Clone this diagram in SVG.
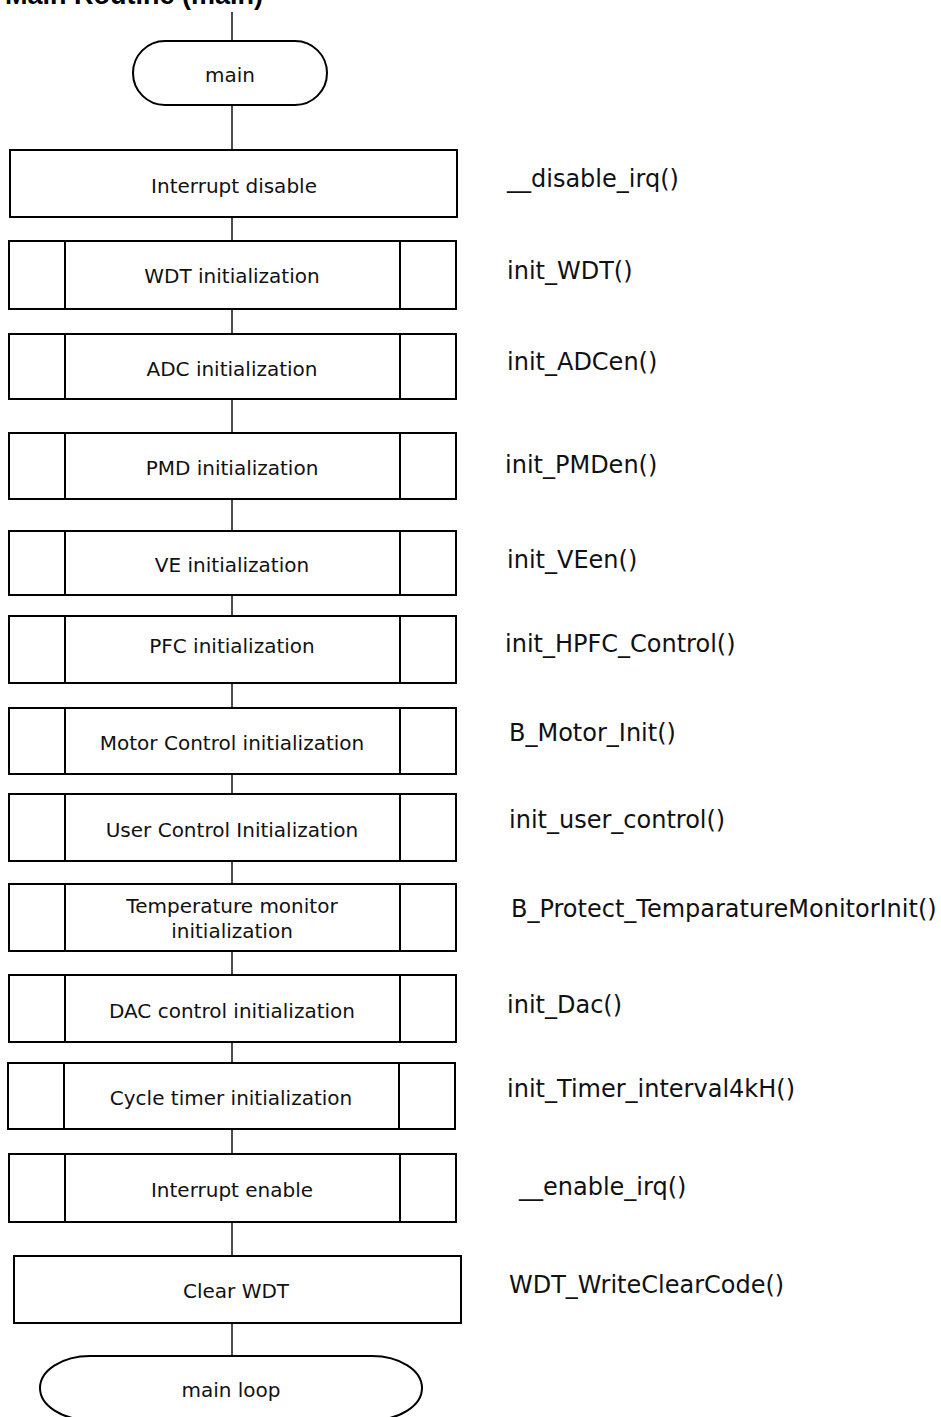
<svg xmlns="http://www.w3.org/2000/svg" width="941" height="1417" viewBox="0 0 941 1417">
  <style>
    .box { fill: #fff; stroke: #000; stroke-width: 2; }
    .bar { stroke: #000; stroke-width: 2; }
    .wire { stroke: #000; stroke-width: 1.4; fill: none; }
    .lbl { font-family: "DejaVu Sans", sans-serif; font-size: 20px; fill: #111; text-anchor: middle; }
    .fn { font-family: "DejaVu Sans", sans-serif; font-size: 24px; fill: #111; }
    .title { font-family: "Liberation Sans", Arial, sans-serif; font-size: 27px; font-weight: bold; fill: #000; }
  </style>

  <text class="title" x="5" y="4">Main Routine (main)</text>

  <!-- flow connectors -->
  <g id="connectors">
    <line class="wire" x1="232" y1="12" x2="232" y2="41"/>
    <line class="wire" x1="232" y1="105" x2="232" y2="150"/>
    <line class="wire" x1="232" y1="217" x2="232" y2="241"/>
    <line class="wire" x1="232" y1="309" x2="232" y2="334"/>
    <line class="wire" x1="232" y1="399" x2="232" y2="433"/>
    <line class="wire" x1="232" y1="499" x2="232" y2="531"/>
    <line class="wire" x1="232" y1="595" x2="232" y2="616"/>
    <line class="wire" x1="232" y1="683" x2="232" y2="708"/>
    <line class="wire" x1="232" y1="774" x2="232" y2="794"/>
    <line class="wire" x1="232" y1="861" x2="232" y2="884"/>
    <line class="wire" x1="232" y1="951" x2="232" y2="975"/>
    <line class="wire" x1="232" y1="1042" x2="232" y2="1063"/>
    <line class="wire" x1="232" y1="1129" x2="232" y2="1154"/>
    <line class="wire" x1="232" y1="1222" x2="232" y2="1256"/>
    <line class="wire" x1="232" y1="1323" x2="232" y2="1356"/>
  </g>

  <g id="start">
    <rect class="box" x="133" y="41" width="194" height="64" rx="32" ry="32"/>
    <text class="lbl" x="230" y="82">main</text>
  </g>

  <g id="irq-disable">
    <rect class="box" x="10" y="150" width="447" height="67"/>
    <text class="lbl" x="234" y="193">Interrupt disable</text>
    <text class="fn" x="507" y="187">__disable_irq()</text>
  </g>

  <g id="wdt-init">
    <rect class="box" x="9" y="241" width="447" height="68"/>
    <line class="bar" x1="65" y1="241" x2="65" y2="309"/>
    <line class="bar" x1="400" y1="241" x2="400" y2="309"/>
    <text class="lbl" x="232" y="283">WDT initialization</text>
    <text class="fn" x="507" y="279">init_WDT()</text>
  </g>

  <g id="adc-init">
    <rect class="box" x="9" y="334" width="447" height="65"/>
    <line class="bar" x1="65" y1="334" x2="65" y2="399"/>
    <line class="bar" x1="400" y1="334" x2="400" y2="399"/>
    <text class="lbl" x="232" y="376">ADC initialization</text>
    <text class="fn" x="507" y="370">init_ADCen()</text>
  </g>

  <g id="pmd-init">
    <rect class="box" x="9" y="433" width="447" height="66"/>
    <line class="bar" x1="65" y1="433" x2="65" y2="499"/>
    <line class="bar" x1="400" y1="433" x2="400" y2="499"/>
    <text class="lbl" x="232" y="475">PMD initialization</text>
    <text class="fn" x="505" y="473">init_PMDen()</text>
  </g>

  <g id="ve-init">
    <rect class="box" x="9" y="531" width="447" height="64"/>
    <line class="bar" x1="65" y1="531" x2="65" y2="595"/>
    <line class="bar" x1="400" y1="531" x2="400" y2="595"/>
    <text class="lbl" x="232" y="572">VE initialization</text>
    <text class="fn" x="507" y="568">init_VEen()</text>
  </g>

  <g id="pfc-init">
    <rect class="box" x="9" y="616" width="447" height="67"/>
    <line class="bar" x1="65" y1="616" x2="65" y2="683"/>
    <line class="bar" x1="400" y1="616" x2="400" y2="683"/>
    <text class="lbl" x="232" y="653">PFC initialization</text>
    <text class="fn" x="505" y="652">init_HPFC_Control()</text>
  </g>

  <g id="motor-init">
    <rect class="box" x="9" y="708" width="447" height="66"/>
    <line class="bar" x1="65" y1="708" x2="65" y2="774"/>
    <line class="bar" x1="400" y1="708" x2="400" y2="774"/>
    <text class="lbl" x="232" y="750">Motor Control initialization</text>
    <text class="fn" x="509" y="741">B_Motor_Init()</text>
  </g>

  <g id="user-init">
    <rect class="box" x="9" y="794" width="447" height="67"/>
    <line class="bar" x1="65" y1="794" x2="65" y2="861"/>
    <line class="bar" x1="400" y1="794" x2="400" y2="861"/>
    <text class="lbl" x="232" y="837">User Control Initialization</text>
    <text class="fn" x="509" y="828">init_user_control()</text>
  </g>

  <g id="temp-init">
    <rect class="box" x="9" y="884" width="447" height="67"/>
    <line class="bar" x1="65" y1="884" x2="65" y2="951"/>
    <line class="bar" x1="400" y1="884" x2="400" y2="951"/>
    <text class="lbl" x="232" y="913">Temperature monitor</text>
    <text class="lbl" x="232" y="938">initialization</text>
    <text class="fn" x="511" y="917">B_Protect_TemparatureMonitorInit()</text>
  </g>

  <g id="dac-init">
    <rect class="box" x="9" y="975" width="447" height="67"/>
    <line class="bar" x1="65" y1="975" x2="65" y2="1042"/>
    <line class="bar" x1="400" y1="975" x2="400" y2="1042"/>
    <text class="lbl" x="232" y="1018">DAC control initialization</text>
    <text class="fn" x="507" y="1013">init_Dac()</text>
  </g>

  <g id="timer-init">
    <rect class="box" x="8" y="1063" width="447" height="66"/>
    <line class="bar" x1="64" y1="1063" x2="64" y2="1129"/>
    <line class="bar" x1="399" y1="1063" x2="399" y2="1129"/>
    <text class="lbl" x="231" y="1105">Cycle timer initialization</text>
    <text class="fn" x="507" y="1097">init_Timer_interval4kH()</text>
  </g>

  <g id="irq-enable">
    <rect class="box" x="9" y="1154" width="447" height="68"/>
    <line class="bar" x1="65" y1="1154" x2="65" y2="1222"/>
    <line class="bar" x1="400" y1="1154" x2="400" y2="1222"/>
    <text class="lbl" x="232" y="1197">Interrupt enable</text>
    <text class="fn" x="519" y="1195">__enable_irq()</text>
  </g>

  <g id="clear-wdt">
    <rect class="box" x="14" y="1256" width="447" height="67"/>
    <text class="lbl" x="236" y="1298">Clear WDT</text>
    <text class="fn" x="509" y="1293">WDT_WriteClearCode()</text>
  </g>

  <g id="main-loop">
    <rect class="box" x="40" y="1356" width="382" height="64" rx="50" ry="32"/>
    <text class="lbl" x="231" y="1397">main loop</text>
  </g>
</svg>
